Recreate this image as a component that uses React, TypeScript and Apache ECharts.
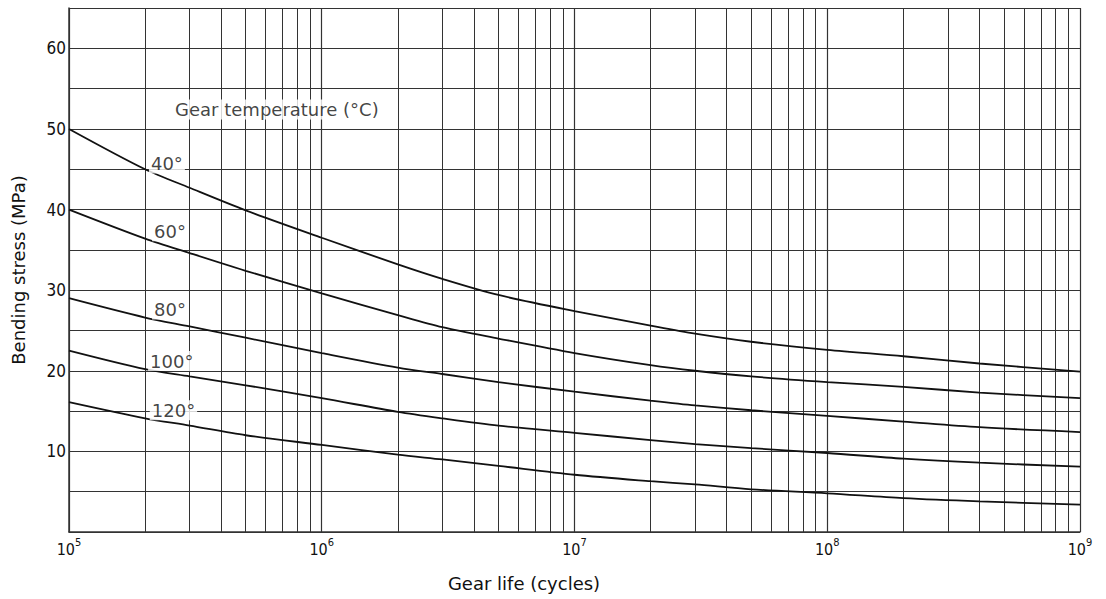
import React, { useEffect, useRef } from "react";
import * as echarts from "echarts";

const cycles = [1e5, 2e5, 3e5, 5e5, 1e6, 2e6, 3e6, 5e6, 1e7, 2e7, 3e7, 5e7, 1e8, 2e8, 4e8, 1e9];
const stress40 = [50, 45.0, 42.7, 39.9, 36.5, 33.2, 31.4, 29.4, 27.4, 25.6, 24.6, 23.6, 22.6, 21.8, 20.9, 19.9];
const stress60 = [40, 36.4, 34.6, 32.4, 29.6, 26.9, 25.4, 24.0, 22.2, 20.7, 20.0, 19.3, 18.6, 18.0, 17.3, 16.6];
const stress80 = [29.0, 26.6, 25.5, 24.1, 22.2, 20.4, 19.6, 18.6, 17.4, 16.3, 15.7, 15.1, 14.4, 13.7, 13.0, 12.4];
const stress100 = [22.5, 20.2, 19.3, 18.2, 16.6, 14.9, 14.1, 13.2, 12.3, 11.4, 10.9, 10.4, 9.8, 9.1, 8.6, 8.1];
const stress120 = [16.1, 14.1, 13.2, 12.0, 10.8, 9.6, 9.0, 8.2, 7.1, 6.3, 5.9, 5.3, 4.8, 4.2, 3.8, 3.4];

const tempNames = ["40°", "60°", "80°", "100°", "120°"];
const tempLabelAt = [
  [2.44e5, 45.7],
  [2.51e5, 37.3],
  [2.51e5, 27.6],
  [2.55e5, 21.2],
  [2.59e5, 15.1],
];
const legendTitle = "Gear temperature (°C)";
const legendTitleAt = [2.58e5, 52.4];

const decades = [1e5, 1e6, 1e7, 1e8];
const multiples = [2, 3, 4, 5, 6, 7, 8, 9];

const FONT = "'DejaVu Sans', sans-serif";
const FONT_NARROW = "'DejaVu Sans Condensed', 'DejaVu Sans', sans-serif";
const INK = "#111111";
const GRID = "#333333";

export default function App() {
  const ref = useRef<HTMLDivElement>(null);
  useEffect(() => {
    document.body.style.margin = "0";
    if (!ref.current) return;
    const chart = echarts.init(ref.current, undefined, { renderer: "svg" });
    const minorLines: number[] = [];
    decades.forEach((d) => multiples.forEach((m) => minorLines.push(d * m)));
    const curves = [stress40, stress60, stress80, stress100, stress120];

    const series: any[] = curves.map((vals, i) => ({
      type: "line",
      name: tempNames[i],
      data: cycles.map((c, j) => [c, vals[j]]),
      smooth: 0.3,
      showSymbol: false,
      lineStyle: { color: INK, width: 1.8 },
      z: 3,
      ...(i === 0
        ? {
            markLine: {
              silent: true,
              symbol: ["none", "none"],
              label: { show: false },
              lineStyle: { color: GRID, width: 1, type: "solid" },
              data: minorLines.map((v) => ({ xAxis: v })),
              z: 1,
            },
          }
        : {}),
    }));

    const labelStyle = {
      show: true,
      color: INK,
      fontSize: 18,
      fontFamily: FONT,
      backgroundColor: "#fff",
      padding: [1, 2],
    };

    series.push({
      type: "scatter",
      symbolSize: 0,
      z: 10,
      silent: true,
      data: [
        ...tempLabelAt.map((p, i) => ({
          value: p,
          label: { ...labelStyle, position: "inside", formatter: tempNames[i] },
        })),
        {
          value: legendTitleAt,
          label: { ...labelStyle, position: "right", distance: 0, formatter: legendTitle },
        },
      ],
    });

    chart.setOption({
      animation: false,
      backgroundColor: "#fff",
      grid: { left: 69, right: 26, top: 8, bottom: 67 },
      xAxis: {
        type: "log",
        logBase: 10,
        min: 1e5,
        max: 1e9,
        splitNumber: 4,
        axisLine: { show: true, lineStyle: { color: GRID, width: 1.5 } },
        axisTick: { show: false },
        axisLabel: {
          color: INK,
          fontFamily: FONT_NARROW,
          margin: 5,
          formatter: (v: number) => "{b|10}{s|" + Math.round(Math.log10(v)) + "}",
          rich: {
            b: { fontSize: 16, fontFamily: FONT_NARROW, color: INK, lineHeight: 20, verticalAlign: "bottom" },
            s: { fontSize: 11, fontFamily: FONT_NARROW, color: INK, lineHeight: 11, verticalAlign: "top" },
          },
        },
        splitLine: { show: true, lineStyle: { color: GRID, width: 1.2 } },
      },
      yAxis: {
        type: "value",
        min: 0,
        max: 65,
        interval: 5,
        name: "Bending stress (MPa)",
        nameLocation: "middle",
        nameGap: 42,
        nameTextStyle: { color: INK, fontSize: 18, fontFamily: FONT },
        axisLine: { show: true, lineStyle: { color: GRID, width: 1.5 } },
        axisTick: { show: false },
        axisLabel: {
          color: INK,
          fontSize: 17,
          fontFamily: FONT_NARROW,
          margin: 3,
          formatter: (v: number) => (v > 0 && v % 10 === 0 ? String(v) : ""),
        },
        splitLine: { show: true, lineStyle: { color: GRID, width: 1.2 } },
      },
      graphic: [
        {
          type: "text",
          x: 524,
          y: 583,
          style: {
            text: "Gear life (cycles)",
            textAlign: "center",
            textVerticalAlign: "middle",
            fill: INK,
            fontSize: 18,
            fontFamily: FONT,
          },
        },
      ],
      series,
    });
    return () => chart.dispose();
  }, []);
  return <div ref={ref} style={{ width: 1106, height: 599 }} />;
}
